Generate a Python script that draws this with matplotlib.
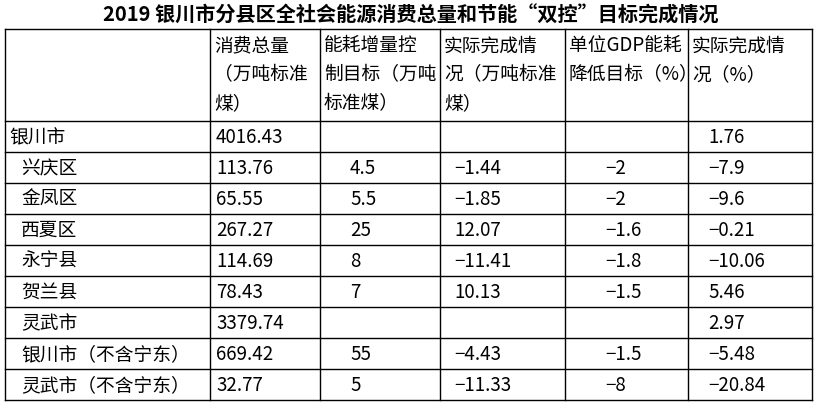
import matplotlib
matplotlib.use("Agg")
import matplotlib.pyplot as plt

plt.rcParams['font.family'] = ['Noto Sans CJK SC', 'DejaVu Sans']

title = "2019 银川市分县区全社会能源消费总量和节能“双控”目标完成情况"
headers = [["消费总量", "（万吨标准", "煤）"],
           ["能耗增量控", "制目标（万吨", "标准煤）"],
           ["实际完成情", "况（万吨标准", "煤）"],
           ["单位GDP能耗", "降低目标（%）"],
           ["实际完成情", "况（%）"]]
regions = ["银川市", "兴庆区", "金凤区", "西夏区", "永宁县", "贺兰县", "灵武市",
           "银川市（不含宁东）", "灵武市（不含宁东）"]
indent = [False, True, True, True, True, True, True, True, True]
consumption = ["4016.43", "113.76", "65.55", "267.27", "114.69", "78.43", "3379.74", "669.42", "32.77"]
incr_target = ["", "4.5", "5.5", "25", "8", "7", "", "55", "5"]
incr_actual = ["", "-1.44", "-1.85", "12.07", "-11.41", "10.13", "", "-4.43", "-11.33"]
gdp_target = ["", "-2", "-2", "-1.6", "-1.8", "-1.5", "", "-1.5", "-8"]
gdp_actual = ["1.76", "-7.9", "-9.6", "-0.21", "-10.06", "5.46", "2.97", "-5.48", "-20.84"]

W, H = 821, 410
fig = plt.figure(figsize=(W/100, H/100), dpi=100)
ax = fig.add_axes([0, 0, 1, 1])
ax.set_xlim(0, W); ax.set_ylim(H, 0); ax.axis('off')

xs = [5, 210, 320, 440, 565, 688, 812]
top, hbot, rowh = 30, 122, 31
nrows = len(regions)
bottom = hbot + rowh * nrows
fs = 13.5

ax.text(W/2, 15, title, ha='center', va='center', fontsize=14.5, fontweight='bold')
for x in xs:
    ax.plot([x, x], [top, bottom], color='black', lw=1)
ax.plot([xs[0], xs[-1]], [top, top], color='black', lw=1)
for i in range(nrows + 1):
    y = hbot + i * rowh
    ax.plot([xs[0], xs[-1]], [y, y], color='black', lw=1)

for c, lines in enumerate(headers):
    for j, t in enumerate(lines):
        ax.text(xs[c+1] + 4, 46 + j * 29, t, ha='left', va='center', fontsize=fs)

cols = [consumption, incr_target, incr_actual, gdp_target, gdp_actual]
offs = [6, 30, 14, 40, 20]
for i in range(nrows):
    y = hbot + i * rowh + rowh / 2
    ax.text(xs[0] + (16 if indent[i] else 4), y, regions[i], ha='left', va='center', fontsize=fs)
    for c, col in enumerate(cols):
        v = col[i].replace('-', '−')
        if v:
            ax.text(xs[c+1] + offs[c], y, v, ha='left', va='center', fontsize=fs)

fig.savefig("out.png", dpi=100)
